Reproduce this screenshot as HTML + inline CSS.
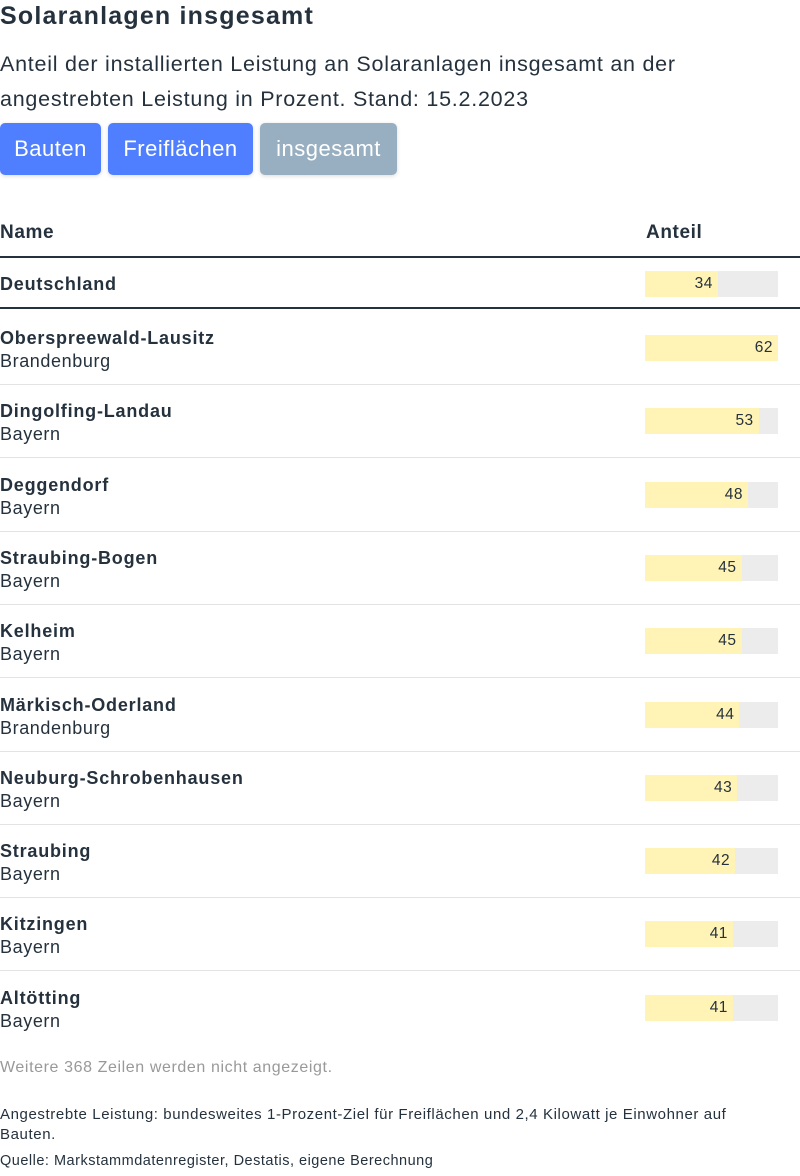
<!DOCTYPE html>
<html><head><meta charset="utf-8"><style>
body{margin:0;width:800px;height:1176px;background:#fff;font-family:"Liberation Sans",sans-serif;color:#25323e;position:relative;overflow:hidden}
.a{position:absolute;white-space:nowrap}
.btn{position:absolute;top:123px;height:52px;border-radius:5px;color:#fff;font-size:22px;letter-spacing:0.5px;line-height:52px;text-align:center;box-shadow:0 1px 4px rgba(0,0,0,.15)}
.hr{position:absolute;left:0;width:800px}
.bg{position:absolute;left:645px;width:133px;height:26px;background:#ececec}
.fill{position:absolute;left:0;top:0;height:26px;background:#fff3b5}
.val{position:absolute;top:0;line-height:26px;font-size:15.5px;letter-spacing:0.5px;color:#25323e;text-align:right}
</style></head><body>
<div class="a" style="left:0;top:2px;font-size:25px;letter-spacing:1.2px;font-weight:bold">Solaranlagen insgesamt</div>
<div class="a" style="left:0;top:47px;font-size:21.5px;letter-spacing:0.75px;line-height:35px;white-space:normal;width:790px">Anteil der installierten Leistung an Solaranlagen insgesamt an der angestrebten Leistung in Prozent. Stand: 15.2.2023</div>
<div class="btn" style="left:0;width:101px;background:#4f7ffe">Bauten</div>
<div class="btn" style="left:108px;width:145px;background:#4f7ffe">Freiflächen</div>
<div class="btn" style="left:260px;width:137px;background:#98afc1">insgesamt</div>
<div class="a" style="left:0;top:222px;font-size:19px;letter-spacing:0.6px;font-weight:bold">Name</div>
<div class="a" style="left:646px;top:222px;font-size:19px;letter-spacing:0.6px;font-weight:bold">Anteil</div>
<div class="hr" style="top:256px;height:2px;background:#25323e"></div>
<div class="hr" style="top:307px;height:2px;background:#25323e"></div>
<div id="rows"></div>
<div class="a" style="left:0;top:1059px;font-size:16px;letter-spacing:0.6px;color:#999">Weitere 368 Zeilen werden nicht angezeigt.</div>
<div class="a" style="left:0;top:1105px;font-size:15px;letter-spacing:0.6px;line-height:20px;white-space:normal;width:765px">Angestrebte Leistung: bundesweites 1-Prozent-Ziel für Freiflächen und 2,4 Kilowatt je Einwohner auf Bauten.</div>
<div class="a" style="left:0;top:1153px;font-size:14.5px;letter-spacing:0.5px">Quelle: Markstammdatenregister, Destatis, eigene Berechnung</div>
<script>
const names=["Deutschland","Oberspreewald-Lausitz","Dingolfing-Landau","Deggendorf","Straubing-Bogen","Kelheim","Märkisch-Oderland","Neuburg-Schrobenhausen","Straubing","Kitzingen","Altötting"];
const states=["","Brandenburg","Bayern","Bayern","Bayern","Bayern","Brandenburg","Bayern","Bayern","Bayern","Bayern"];
const values=[34,62,53,48,45,45,44,43,42,41,41];
const maxV=Math.max(...values);
const BW=133;
const xs=v=>v/maxV*BW;
const root=document.getElementById('rows');
values.forEach((v,i)=>{
  let top,barTop;
  if(i===0){top=274;barTop=271;}
  else{top=328+(i-1)*73.3;barTop=335+(i-1)*73.3;}
  const n=document.createElement('div');n.className='a';
  
  
  n.style.cssText=`left:0;top:${top}px;font-size:18px;letter-spacing:0.8px;font-weight:bold`;
  n.textContent=names[i];root.appendChild(n);
  if(states[i]){
    const s=document.createElement('div');s.className='a';
    
    
    s.style.cssText=`left:0;top:${top+23}px;font-size:18px;letter-spacing:0.6px`;
    s.textContent=states[i];root.appendChild(s);
  }
  const bg=document.createElement('div');bg.className='bg';
  
  
  bg.style.top=barTop+'px';
  const f=document.createElement('div');f.className='fill';
  
  
  f.style.width=xs(v)+'px';bg.appendChild(f);
  const t=document.createElement('div');t.className='val';
  
  
  t.style.left='0';t.style.width=(xs(v)-5)+'px';t.textContent=v;bg.appendChild(t);
  root.appendChild(bg);
  if(i>=1&&i<10){
    const l=document.createElement('div');l.className='hr';
    
    
    l.style.cssText=`top:${384+(i-1)*73.3}px;height:1px;background:#e3e3e3`;
    root.appendChild(l);
  }
});
</script>
</body></html>
